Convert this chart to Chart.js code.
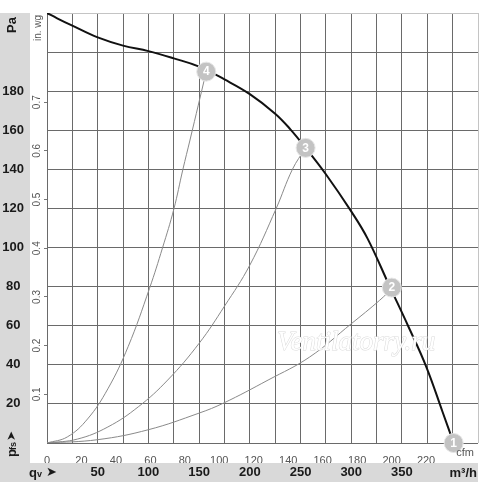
<!DOCTYPE html>
<html lang="ru">
<head>
    <meta charset="UTF-8">
    <title>Fan curve</title>
    <script src="https://cdn.jsdelivr.net/npm/chart.js@4"></script>
    <style>
        html, body { margin: 0; padding: 0; background: #fff; }
        #wrap { width: 500px; height: 485px; }
    </style>
</head>
<body>
<div id="wrap"><canvas id="fanChart" width="500" height="485"></canvas></div>
<script>
    // airflow qv in m3/h, static pressure pfs in Pa
    const fanQ  = [0, 10, 25, 50, 75, 100, 125, 150, 175, 200, 225, 240, 255, 275, 300, 316, 338, 356, 374, 390, 401];
    const fanPa = [220, 217.3, 213.5, 207.5, 203.3, 200.5, 196.8, 192.6, 186, 178.5, 168.5, 160.5, 151, 137.5, 118.5, 104.7, 80, 60, 39, 16, 0];

    // system (resistance) curves ending at operating points 2, 3, 4
    const sys2Q  = [0, 50, 100, 150, 174, 218, 259, 300, 328, 341];
    const sys2Pa = [0, 1.7, 6.8, 15.3, 20.4, 32.2, 44, 61, 73, 79.5];
    const sys3Q  = [0, 30, 60, 90, 119, 150, 175, 200, 226, 242, 255];
    const sys3Pa = [0, 2, 8.2, 18.5, 32.2, 51, 70, 91, 120, 140, 151];
    const sys4Q  = [0, 20, 40, 60, 80, 101, 114, 125, 134, 141, 157];
    const sys4Pa = [0, 3.1, 12.3, 27.7, 49.3, 79, 100, 119.5, 140, 155, 190];

    // numbered operating points
    const pointQ = [401, 340, 255, 157];
    const pointPa = [0, 79.5, 151, 190];
    const pointLabels = ['1', '2', '3', '4'];

    // tick labels shown on the sheet
    const qvTicks = [50, 100, 150, 200, 250, 300, 350];
    const cfmTicks = [0, 20, 40, 60, 80, 100, 120, 140, 160, 180, 200, 220];
    const paTicks = [20, 40, 60, 80, 100, 120, 140, 160, 180];
    const inwgTicks = [0.1, 0.2, 0.3, 0.4, 0.5, 0.6, 0.7];

    const qMax = 425, paMax = 220;
    const m3hPerCfm = 1.699, paPerInwg = 249.09;

    const boldFont = { family: '"Liberation Sans", Arial, sans-serif', size: 13, weight: 'bold' };
    const smallFont = { family: '"Liberation Sans", Arial, sans-serif', size: 11 };
    const gridDark = '#6a6a6a', gridLight = '#c4c4c4';

    const toXY = (qs, ps) => qs.map((q, i) => ({ x: q, y: ps[i] }));
    const inList = (list, v) => list.some(t => Math.abs(t - v) < 1e-6);

    const sheetDecor = {
        id: 'sheetDecor',
        beforeDraw(chart) {
            const { ctx, chartArea: { left, top, right, bottom } } = chart;
            ctx.save();
            ctx.fillStyle = '#fff';
            ctx.fillRect(0, 0, chart.width, chart.height);
            ctx.fillStyle = '#d9d9d9';
            ctx.fillRect(0, top, left - 17, bottom + 39 - top);
            ctx.fillRect(0, bottom + 20, right, 19);
            ctx.restore();
        },
        afterDatasetsDraw(chart) {
            const { ctx, chartArea: { left, top, right, bottom } } = chart;
            ctx.save();

            // watermark
            ctx.font = 'italic 27px "Liberation Serif", serif';
            ctx.textAlign = 'left';
            ctx.textBaseline = 'alphabetic';
            ctx.lineWidth = 1;
            ctx.strokeStyle = '#dadada';
            ctx.strokeText('Ventilatorry.ru', 277, 350);
            ctx.fillStyle = '#fff';
            ctx.fillText('Ventilatorry.ru', 277, 350);

            // numbers in operating point circles
            const meta = chart.getDatasetMeta(0);
            ctx.fillStyle = '#fff';
            ctx.font = 'bold 12px "Liberation Sans", Arial, sans-serif';
            ctx.textAlign = 'center';
            ctx.textBaseline = 'middle';
            meta.data.forEach((pt, i) => ctx.fillText(pointLabels[i], pt.x, pt.y + 0.5));

            // axis titles
            ctx.fillStyle = '#1a1a1a';
            ctx.font = 'bold 13px "Liberation Sans", Arial, sans-serif';
            ctx.save();
            ctx.translate(left - 35, top + 12);
            ctx.rotate(-Math.PI / 2);
            ctx.fillText('Pa', 0, 0);
            ctx.restore();

            ctx.save();
            ctx.translate(left - 35, bottom + 4);
            ctx.rotate(-Math.PI / 2);
            ctx.textAlign = 'left';
            ctx.font = 'bold 13px "Liberation Sans", Arial, sans-serif';
            ctx.fillText('p', -10, 0);
            ctx.font = 'bold 9px "Liberation Sans", Arial, sans-serif';
            ctx.fillText('fs', -3, 2);
            ctx.font = 'bold 12px "DejaVu Sans", sans-serif';
            ctx.fillText('➤', 6, 0);
            ctx.restore();

            ctx.textAlign = 'left';
            ctx.font = 'bold 13px "Liberation Sans", Arial, sans-serif';
            ctx.fillText('q', left - 18, bottom + 30);
            ctx.font = 'bold 9px "Liberation Sans", Arial, sans-serif';
            ctx.fillText('v', left - 10, bottom + 32);
            ctx.font = 'bold 13px "DejaVu Sans", sans-serif';
            ctx.fillText('➤', left - 1, bottom + 30);

            ctx.textAlign = 'right';
            ctx.font = 'bold 13px "Liberation Sans", Arial, sans-serif';
            ctx.fillText('m³/h', right - 1, bottom + 30);

            ctx.fillStyle = '#555';
            ctx.textAlign = 'center';
            ctx.font = '11px "Liberation Sans", Arial, sans-serif';
            ctx.fillText('cfm', right - 13, bottom + 10);

            ctx.save();
            ctx.translate(left - 9, top + 15);
            ctx.rotate(-Math.PI / 2);
            ctx.font = '10px "Liberation Sans", Arial, sans-serif';
            ctx.fillText('in. wg', 0, 0);
            ctx.restore();

            ctx.restore();
        }
    };

    const ctx = document.getElementById('fanChart').getContext('2d');
    const fanChart = new Chart(ctx, {
        type: 'scatter',
        data: {
            datasets: [
                {
                    label: 'points',
                    data: toXY(pointQ, pointPa),
                    pointRadius: 9.5,
                    pointBackgroundColor: '#c3c3c3',
                    pointBorderColor: '#e6e6e6',
                    pointBorderWidth: 1,
                    showLine: false,
                    clip: false
                },
                {
                    label: 'fan',
                    data: toXY(fanQ, fanPa),
                    showLine: true,
                    borderColor: '#111',
                    borderWidth: 2,
                    pointRadius: 0,
                    tension: 0.4
                },
                {
                    label: 'system 2',
                    data: toXY(sys2Q, sys2Pa),
                    showLine: true,
                    borderColor: '#8a8a8a',
                    borderWidth: 1,
                    pointRadius: 0,
                    tension: 0.4
                },
                {
                    label: 'system 3',
                    data: toXY(sys3Q, sys3Pa),
                    showLine: true,
                    borderColor: '#8a8a8a',
                    borderWidth: 1,
                    pointRadius: 0,
                    tension: 0.4
                },
                {
                    label: 'system 4',
                    data: toXY(sys4Q, sys4Pa),
                    showLine: true,
                    borderColor: '#8a8a8a',
                    borderWidth: 1,
                    pointRadius: 0,
                    tension: 0.4
                }
            ]
        },
        options: {
            responsive: false,
            animation: false,
            events: [],
            layout: { padding: { top: 13, right: 22, left: 0, bottom: 0 } },
            plugins: {
                legend: { display: false },
                tooltip: { enabled: false }
            },
            scales: {
                x: {
                    type: 'linear',
                    position: 'bottom',
                    weight: 1,
                    min: 0,
                    max: qMax,
                    border: { display: false },
                    grid: {
                        drawTicks: false,
                        color: c => c.tick && c.tick.value === qMax ? gridLight : gridDark
                    },
                    ticks: {
                        stepSize: 25,
                        autoSkip: false,
                        maxRotation: 0,
                        padding: 2,
                        color: '#1a1a1a',
                        font: boldFont,
                        callback: v => inList(qvTicks, v) ? v : ''
                    },
                    afterFit: s => { s.height = 22; }
                },
                x2: {
                    type: 'linear',
                    position: 'bottom',
                    weight: 0,
                    min: 0,
                    max: qMax / m3hPerCfm,
                    border: { display: false },
                    grid: { display: false },
                    ticks: {
                        stepSize: 20,
                        includeBounds: false,
                        autoSkip: false,
                        maxRotation: 0,
                        padding: 3,
                        color: '#555',
                        font: smallFont,
                        callback: v => inList(cfmTicks, v) ? v : ''
                    },
                    afterFit: s => { s.height = 20; }
                },
                y: {
                    type: 'linear',
                    position: 'left',
                    weight: 1,
                    min: 0,
                    max: paMax,
                    border: { display: false },
                    grid: {
                        drawTicks: false,
                        color: c => c.tick && c.tick.value === paMax ? gridLight : gridDark
                    },
                    ticks: {
                        stepSize: 20,
                        autoSkip: false,
                        crossAlign: 'center',
                        padding: 2,
                        color: '#1a1a1a',
                        font: boldFont,
                        callback: v => inList(paTicks, v) ? v : ''
                    },
                    afterFit: s => { s.width = 26; }
                },
                y2: {
                    type: 'linear',
                    position: 'left',
                    weight: 0,
                    min: 0,
                    max: paMax / paPerInwg,
                    border: { display: false },
                    grid: {
                        drawOnChartArea: false,
                        drawTicks: true,
                        tickLength: 3,
                        color: c => c.tick && inList(inwgTicks, c.tick.value) ? '#777' : 'rgba(0,0,0,0)'
                    },
                    ticks: {
                        stepSize: 0.1,
                        includeBounds: false,
                        autoSkip: false,
                        minRotation: 90,
                        maxRotation: 90,
                        crossAlign: 'center',
                        padding: 0,
                        color: '#555',
                        font: { family: '"Liberation Sans", Arial, sans-serif', size: 10 },
                        callback: v => inList(inwgTicks, v) ? v.toFixed(1) : ''
                    },
                    afterFit: s => { s.width = 21; }
                }
            }
        },
        plugins: [sheetDecor]
    });
</script>
</body>
</html>
